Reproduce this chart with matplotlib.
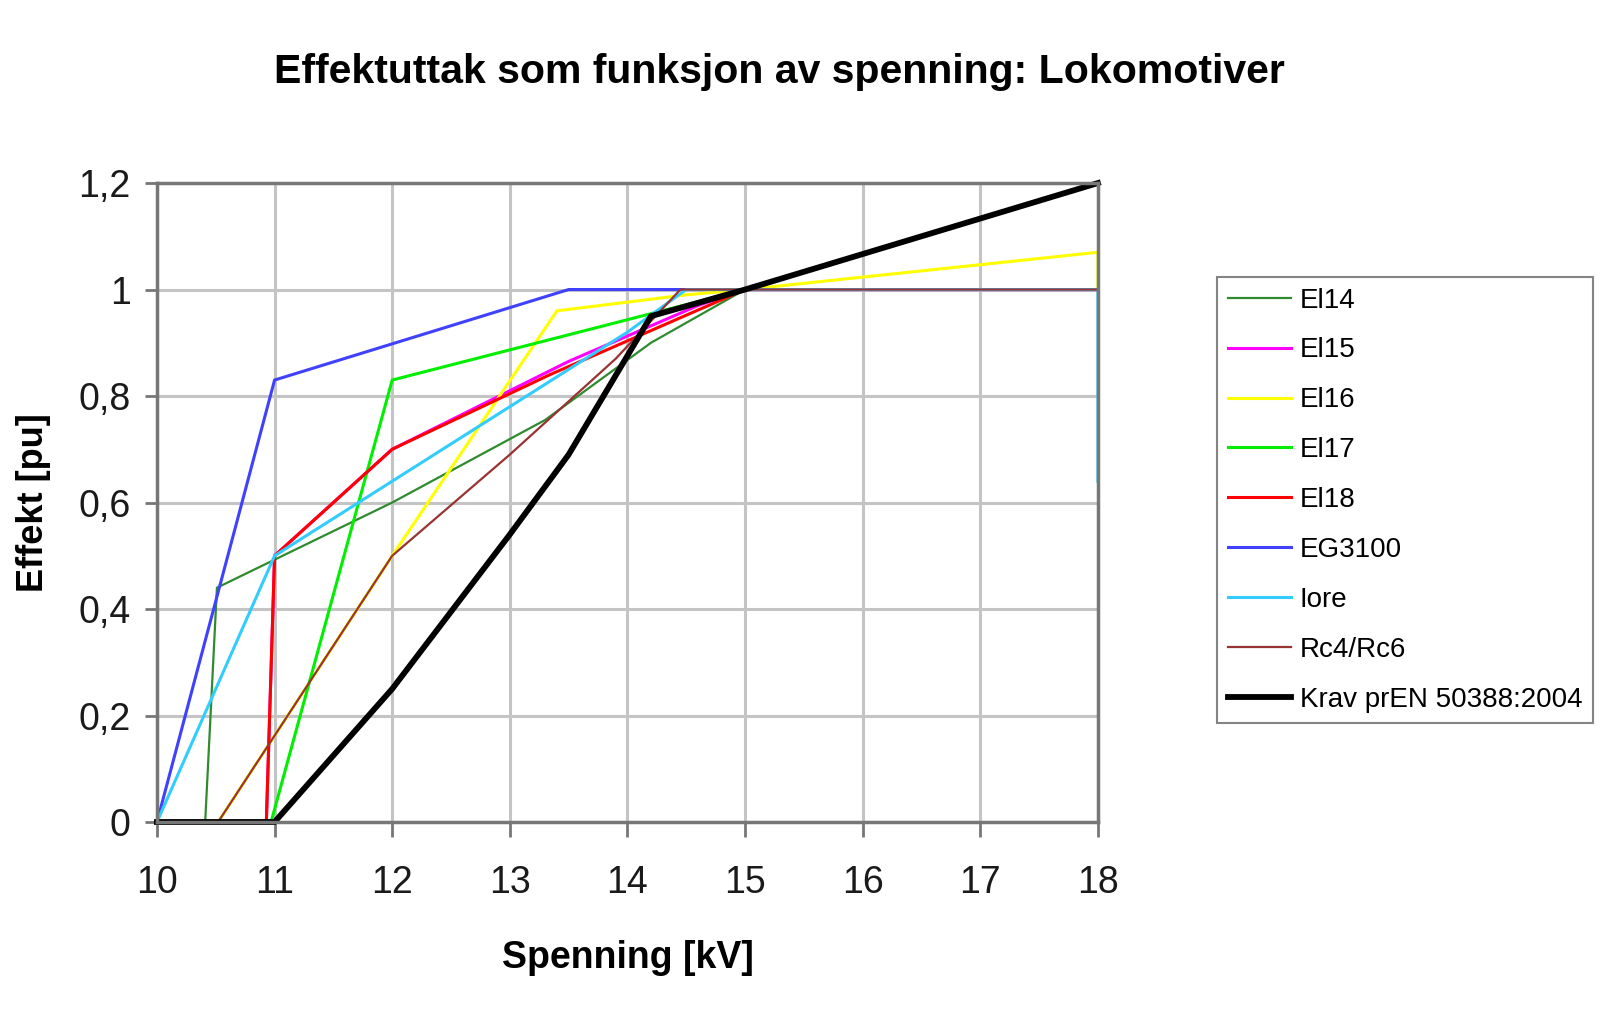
import matplotlib
matplotlib.use("Agg")
import matplotlib.pyplot as plt
from matplotlib.ticker import FuncFormatter, MultipleLocator

plt.rcParams['font.family'] = ['Liberation Sans', 'DejaVu Sans']

# Spenning [kV] og effekt [pu] per lokomotivtype, lest av figuren
el14_u = [10.41, 10.51, 12.0, 13.3, 14.2, 15.0, 18.0]
el14_p = [0.0, 0.44, 0.60, 0.755, 0.90, 1.0, 1.0]

el15_u = [10.93, 11.0, 12.0, 13.5, 14.6, 15.0, 18.0]
el15_p = [0.0, 0.50, 0.70, 0.865, 0.97, 1.0, 1.0]

el16_u = [10.52, 12.0, 13.4, 14.5, 15.0, 18.0, 18.0]
el16_p = [0.0, 0.50, 0.96, 0.99, 1.0, 1.07, 1.0]

el17_u = [10.97, 12.0, 15.0, 18.0]
el17_p = [0.0, 0.83, 1.0, 1.2]

el18_u = [10.93, 11.0, 12.0, 13.34, 15.0, 18.0]
el18_p = [0.0, 0.50, 0.70, 0.84, 1.0, 1.0]

eg3100_u = [10.0, 11.0, 13.5, 18.0]
eg3100_p = [0.0, 0.83, 1.0, 1.0]

iore_u = [10.0, 11.0, 12.0, 13.0, 14.0, 14.5, 18.0, 18.0]
iore_p = [0.0, 0.50, 0.64, 0.78, 0.92, 1.0, 1.0, 0.64]

rc_u = [10.52, 12.0, 13.0, 13.9, 14.45, 18.0]
rc_p = [0.0, 0.50, 0.69, 0.87, 1.0, 1.0]

krav_u = [10.0, 11.0, 12.0, 13.0, 13.5, 14.2, 15.0, 18.0]
krav_p = [0.0, 0.0, 0.25, 0.54, 0.69, 0.95, 1.0, 1.2]

serier = [
    ('El14', el14_u, el14_p, '#2e8b2e', 1.6),
    ('El15', el15_u, el15_p, '#ff00ff', 2.2),
    ('El16', el16_u, el16_p, '#ffff00', 2.2),
    ('El17', el17_u, el17_p, '#00ee00', 2.2),
    ('El18', el18_u, el18_p, '#ff0000', 2.2),
    ('EG3100', eg3100_u, eg3100_p, '#4040ff', 2.2),
    ('Iore', iore_u, iore_p, '#33ccff', 2.2),
    ('Rc4/Rc6', rc_u, rc_p, '#993333', 1.6),
    ('Krav prEN 50388:2004', krav_u, krav_p, '#000000', 4.2),
]

fig = plt.figure(figsize=(16, 10.22), dpi=100)
ax = fig.add_axes([0.0981, 0.1957, 0.5881, 0.6252])

for navn, u, p, farge, lw in serier:
    ax.plot(u, p, color=farge, linewidth=lw, label=navn, solid_joinstyle='miter', clip_on=False)

ax.set_xlim(10, 18)
ax.set_ylim(0, 1.2)
ax.xaxis.set_major_locator(MultipleLocator(1))
ax.yaxis.set_major_locator(MultipleLocator(0.2))
ax.yaxis.set_major_formatter(FuncFormatter(lambda v, pos: f"{v:g}".replace('.', ',')))

ax.grid(True, color='#c4c4c4', linewidth=2.2)
ax.set_axisbelow(True)
for s in ax.spines.values():
    s.set_color('#777777')
    s.set_linewidth(2.5)

ax.tick_params(axis='y', direction='out', length=9, width=2, color='#777777',
               labelsize=27, pad=10, labelcolor='#1a1a1a')
ax.tick_params(axis='x', direction='out', length=11, width=2, color='#777777',
               labelsize=27, pad=20, labelcolor='#1a1a1a')

ax.set_xlabel('Spenning [kV]', fontsize=27, fontweight='bold', labelpad=28)
ax.set_ylabel('Effekt [pu]', fontsize=26, fontweight='bold', labelpad=20)
fig.suptitle('Effektuttak som funksjon av spenning: Lokomotiver',
             x=0.487, y=0.948, fontsize=29.5, fontweight='bold')

leg = fig.legend(loc='upper left', bbox_to_anchor=(0.7606, 0.729), borderaxespad=0,
                 fontsize=20, frameon=True, fancybox=False, handlelength=2.3,
                 handletextpad=0.3, labelspacing=0.86, borderpad=0.38)
leg.get_frame().set_edgecolor('#666666')
leg.get_frame().set_linewidth(1.5)

fig.savefig('out.png', dpi=100)
